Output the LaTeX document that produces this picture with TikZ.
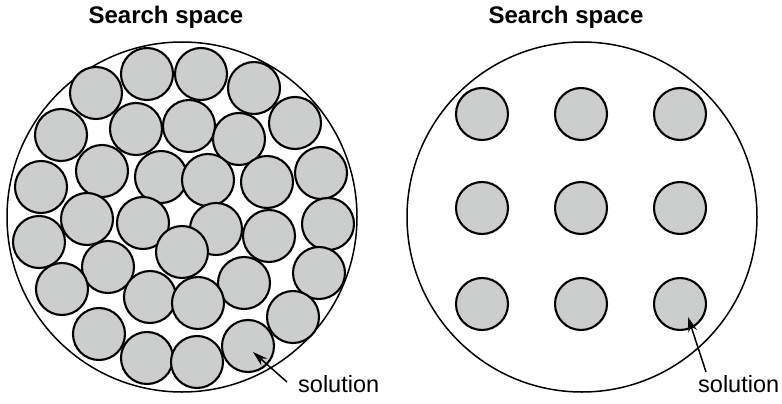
\documentclass[tikz,border=0pt]{standalone}
\usepackage{fontspec}
\setmainfont{Liberation Sans}
\definecolor{mCellGray}{HTML}{CCCDCD}
\usetikzlibrary{positioning,arrows.meta}

\begin{document}
\begin{tikzpicture}[x=1pt, y=-1pt,
  space/.style={draw=black, line width=1.5pt},
  cell/.style={circle, draw=black, fill=mCellGray, line width=2.1pt, minimum size=52pt, inner sep=0pt},
  title/.style={font=\fontsize{24}{28}\selectfont\bfseries, anchor=base},
  soltext/.style={font=\fontsize{23.5}{27}\selectfont, anchor=base west, inner sep=0pt},
  solarrow/.style={-{Stealth[length=15pt, width=9pt]}, line width=1.5pt}]
\useasboundingbox (0,0) rectangle (782,404);
% dense packing: many candidates cover the space
\node[title] (ltitle) at (166,24) {Search space};
\draw[space] (182,217) circle (175);
\foreach \x/\y [count=\i] in {96/93,147/74,201/74,254/88,295/123,61/135,136/129,189/126,239/139,
  102/171,161/177,208/180,267/182,321/173,41/187,87/219,143/223,216/229,269/236,328/224,
  39/242,108/267,319/273,62/289,150/297,244/283,198/303,293/317,99/334,147/358,197/362,248/346,182/252}
  {\node[cell] (l\i) at (\x,\y) {};}
\node[soltext] (lsol) at (298,392) {solution};
\coordinate (ltail) at (287,382);
\coordinate (ltip) at (253,352);
\draw[solarrow] (ltail) -- (ltip);
% sparse grid: few candidates, gaps between them
\node[title] (rtitle) at (566,24) {Search space};
\draw[space] (582,217) circle (175);
\foreach \y [count=\r] in {114,208,304}{
  \foreach \x [count=\c] in {482,581,680}{\node[cell] (r\r\c) at (\x,\y) {};}}
\node[soltext] (rsol) at (698,392) {solution};
\coordinate (rtail) at (706,372);
\coordinate (rtip) at (688,317);
\draw[solarrow] (rtail) -- (rtip);
\end{tikzpicture}
\end{document}
